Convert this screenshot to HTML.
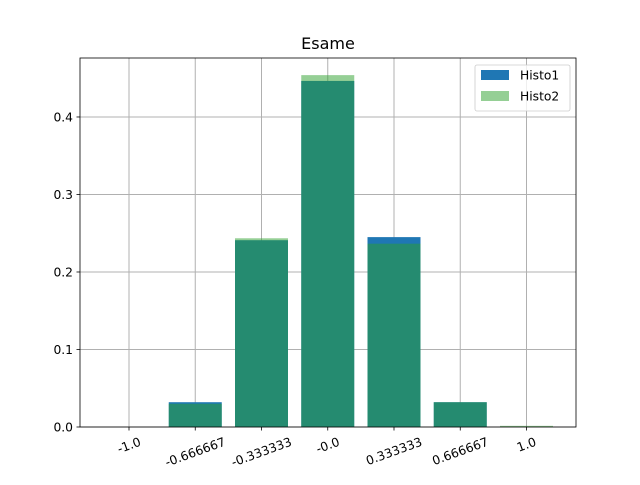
<!DOCTYPE html>
<html><head><meta charset="utf-8"><style>
body{margin:0;background:#fff;font-family:"Liberation Sans","DejaVu Sans",sans-serif}
</style></head><body>
<svg id="chart" width="640" height="480" xmlns="http://www.w3.org/2000/svg" font-family="DejaVu Sans, Liberation Sans, sans-serif">
<rect width="640" height="480" fill="#fff"/>
<g id="grid"></g><g id="bars"></g><g id="axes"></g>
</svg>
<script>
const categories=["-1.0","-0.666667","-0.333333","-0.0","0.333333","0.666667","1.0"];
const histo1=[0,0.032,0.241,0.4465,0.245,0.032,0];
const histo2=[0,0.030,0.2435,0.454,0.2365,0.032,0.0015];
const yTicks=[0,0.1,0.2,0.3,0.4];
const yTickLabels=["0.0","0.1","0.2","0.3","0.4"];
const NS="http://www.w3.org/2000/svg";
const L=80,R=576,T=58,B=427,yMax=0.4761;
const xc=i=>129+i*66.25;
const y=v=>B-(v/yMax)*(B-T);
const bw=53;
function mk(tag,attrs,parent,text){const e=document.createElementNS(NS,tag);for(const k in attrs)e.setAttribute(k,attrs[k]);if(text!==undefined)e.textContent=text;parent.appendChild(e);return e;}
const grid=document.getElementById('grid'),bars=document.getElementById('bars'),axes=document.getElementById('axes');
categories.forEach((c,i)=>{const g=mk('line',{x1:xc(i),x2:xc(i),y1:T,y2:B,stroke:'#b0b0b0','stroke-width':1},grid);

});
yTicks.forEach((v,i)=>{const g=mk('line',{x1:L,x2:R,y1:y(v),y2:y(v),stroke:'#b0b0b0','stroke-width':1},grid);

});
histo1.forEach((v,i)=>{const r=mk('rect',{x:xc(i)-bw/2,y:y(v),width:bw,height:B-y(v),fill:'#1f77b4'},bars);

});
histo2.forEach((v,i)=>{const r=mk('rect',{x:xc(i)-bw/2,y:y(v),width:bw,height:B-y(v),fill:'#2ca02c','fill-opacity':0.5},bars);

});
const fr=mk('rect',{x:L,y:T,width:R-L,height:B-T,fill:'none',stroke:'#000','stroke-width':0.8},axes);


yTicks.forEach((v,i)=>{mk('line',{x1:L-3.5,x2:L,y1:y(v),y2:y(v),stroke:'#000','stroke-width':0.8},axes);
const t=mk('text',{x:L-7,y:y(v)+4.5,'text-anchor':'end','font-size':12.3,fill:'#000'},axes,yTickLabels[i]);

});
const s20=Math.sin(20*Math.PI/180),c20=Math.cos(20*Math.PI/180);
categories.forEach((c,i)=>{mk('line',{x1:xc(i),x2:xc(i),y1:B,y2:B+3.5,stroke:'#000','stroke-width':0.8},axes);
const t=mk('text',{x:0,y:0,'text-anchor':'middle','font-size':12.3,fill:'#000'},axes,c);
const w=t.getComputedTextLength();
const h=w*s20+13*c20;
const cy=B+8+h/2;
t.setAttribute('x',xc(i));t.setAttribute('y',cy+4.3);
t.setAttribute('transform',`rotate(-20 ${xc(i)} ${cy})`);

});
const title=mk('text',{x:328,y:49,'text-anchor':'middle','font-size':16,fill:'#000'},axes,'Esame');


const lg=mk('g',{},axes);


mk('rect',{x:475,y:65,width:95,height:46,rx:2,fill:'#fff','fill-opacity':0.8,stroke:'#ccc','stroke-width':0.8},lg);
mk('rect',{x:481,y:70,width:28,height:10,fill:'#1f77b4'},lg);
mk('text',{x:520,y:79.5,'font-size':12.3,fill:'#000'},lg,'Histo1');
mk('rect',{x:481,y:91,width:28,height:10,fill:'#2ca02c','fill-opacity':0.5},lg);
mk('text',{x:520,y:100.5,'font-size':12.3,fill:'#000'},lg,'Histo2');
</script>
</body></html>
